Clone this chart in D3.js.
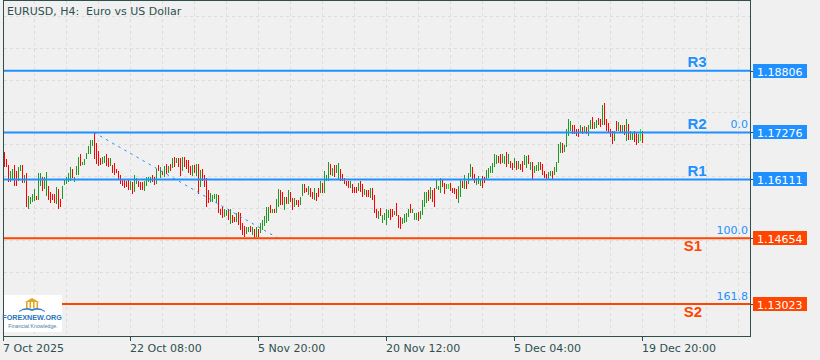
<!DOCTYPE html>
<html><head><meta charset="utf-8">
<script src="https://cdn.jsdelivr.net/npm/d3@7"></script>
<style>html,body{margin:0;padding:0;background:#f0f0f0;} svg{display:block} text{white-space:pre}</style>
</head><body>
<svg id="c" width="820" height="360"></svg>
<script>
// ---------------- data ----------------
const title = "EURUSD, H4:  Euro vs US Dollar";
const highs = [
1.1679,1.1661,1.1646,1.1633,1.1636,1.1646,1.1633,1.1642,1.1646,1.1646,
1.1623,1.1627,1.1570,1.1567,1.1574,1.1588,1.1570,1.1627,1.1627,1.1617,
1.1617,1.1629,1.1596,1.1580,1.1575,1.1574,1.1592,1.1588,1.1563,1.1594,
1.1611,1.1617,1.1627,1.1642,1.1636,1.1617,1.1644,1.1666,1.1673,1.1654,
1.1661,1.1677,1.1694,1.1710,1.1710,1.1727,1.1702,1.1681,1.1665,1.1666,
1.1669,1.1673,1.1665,1.1663,1.1646,1.1652,1.1636,1.1633,1.1623,1.1611,
1.1609,1.1607,1.1609,1.1607,1.1604,1.1621,1.1615,1.1607,1.1604,1.1604,
1.1608,1.1617,1.1617,1.1617,1.1621,1.1617,1.1636,1.1648,1.1642,1.1633,1.1644,
1.1649,1.1644,1.1649,1.1663,1.1666,1.1663,1.1663,1.1663,1.1667,
1.1666,1.1659,1.1659,1.1644,1.1647,1.1647,1.1649,1.1649,1.1634,1.1636,
1.1622,1.1614,1.1585,1.1577,1.1572,1.1575,1.1574,1.1572,1.1539,1.1544,
1.1537,1.1535,1.1539,1.1537,1.1523,1.1519,1.1527,1.1531,1.1527,1.1502,
1.1496,1.1494,1.1494,1.1496,1.1492,1.1487,1.1492,1.1487,1.1504,1.1511,
1.1520,1.1542,1.1544,1.1548,1.1539,1.1539,1.1562,1.1587,1.1585,1.1581,
1.1567,1.1568,1.1585,1.1581,1.1564,1.1564,1.1560,1.1560,1.1568,1.1601,
1.1601,1.1591,1.1595,1.1589,1.1581,1.1591,1.1578,1.1591,1.1608,1.1603,1.1633,
1.1622,1.1655,1.1649,1.1639,1.1647,1.1647,1.1651,1.1636,1.1625,
1.1614,1.1608,1.1608,1.1606,1.1601,1.1593,1.1593,1.1603,1.1606,1.1601,
1.1587,1.1585,1.1585,1.1591,1.1589,1.1572,1.1537,1.1533,1.1541,1.1523,
1.1529,1.1539,1.1535,1.1538,1.1539,1.1533,1.1552,1.1523,1.1519,1.1515,
1.1525,1.1527,1.1539,1.1549,1.1539,1.1529,1.1529,1.1531,1.1534,1.1560,
1.1581,1.1581,1.1585,1.1593,1.1585,1.1589,1.1611,1.1595,1.1614,1.1610,
1.1603,1.1601,1.1601,1.1603,1.1589,1.1591,1.1587,1.1595,1.1610,1.1606,
1.1622,1.1606,1.1626,1.1649,1.1643,1.1625,1.1614,1.1620,1.1611,1.1620,
1.1616,1.1635,1.1640,1.1644,1.1652,1.1674,1.1671,1.1668,1.1674,1.1673,
1.1668,1.1679,1.1673,1.1658,1.1652,1.1664,1.1656,1.1658,1.1649,1.1656,
1.1671,1.1668,1.1671,1.1654,1.1654,1.1644,1.1648,1.1654,1.1654,1.1649,
1.1633,1.1625,1.1630,1.1633,1.1633,1.1641,1.1654,1.1699,1.1704,1.1701,
1.1697,1.1735,1.1762,1.1755,1.1747,1.1745,1.1737,1.1737,1.1745,1.1740,
1.1743,1.1740,1.1745,1.1759,1.1765,1.1754,1.1759,1.1763,1.1762,1.1795,
1.1801,1.1762,1.1751,1.1735,1.1732,1.1730,1.1755,1.1754,1.1747,1.1745,
1.1745,1.1762,1.1749,1.1730,1.1726,1.1730,1.1726,1.1724,1.1737,1.1732
];
const lows = [
1.1642,1.1642,1.1604,1.1604,1.1613,1.1596,1.1596,1.1607,1.1632,1.1603,
1.1603,1.1543,1.1539,1.1549,1.1556,1.1557,1.1561,1.1559,1.1594,1.1582,
1.1588,1.1570,1.1559,1.1553,1.1559,1.1553,1.1549,1.1538,1.1543,1.1563,
1.1597,1.1599,1.1605,1.1607,1.1615,1.1604,1.1623,1.1623,1.1644,1.1646,
1.1646,1.1661,1.1673,1.1675,1.1694,1.1661,1.1650,1.1644,1.1648,1.1650,
1.1652,1.1644,1.1642,1.1644,1.1627,1.1623,1.1626,1.1611,1.1599,1.1594,
1.1590,1.1592,1.1586,1.1586,1.1574,1.1580,1.1599,1.1592,1.1586,1.1586,
1.1582,1.1594,1.1604,1.1603,1.1604,1.1597,1.1600,1.1632,1.1615,1.1623,1.1617,
1.1625,1.1628,1.1633,1.1639,1.1641,1.1653,1.1641,1.1620,1.1633,
1.1643,1.1636,1.1628,1.1622,1.1620,1.1628,1.1620,1.1575,1.1593,1.1606,
1.1593,1.1544,1.1552,1.1556,1.1556,1.1562,1.1552,1.1527,1.1523,1.1515,
1.1519,1.1520,1.1511,1.1501,1.1502,1.1506,1.1506,1.1498,1.1486,1.1473,
1.1469,1.1477,1.1482,1.1482,1.1473,1.1465,1.1468,1.1468,1.1479,1.1486,
1.1496,1.1502,1.1509,1.1527,1.1529,1.1527,1.1527,1.1544,1.1548,1.1548,
1.1535,1.1550,1.1550,1.1556,1.1535,1.1544,1.1548,1.1544,1.1548,1.1570,
1.1578,1.1581,1.1572,1.1568,1.1562,1.1560,1.1558,1.1568,1.1578,1.1578,1.1578,
1.1606,1.1606,1.1622,1.1620,1.1618,1.1626,1.1610,1.1606,1.1608,
1.1601,1.1595,1.1591,1.1589,1.1578,1.1578,1.1578,1.1583,1.1581,1.1568,
1.1572,1.1568,1.1567,1.1564,1.1560,1.1527,1.1515,1.1512,1.1520,1.1504,
1.1511,1.1498,1.1515,1.1511,1.1519,1.1523,1.1520,1.1490,1.1487,1.1501,
1.1502,1.1506,1.1519,1.1527,1.1527,1.1511,1.1511,1.1509,1.1512,1.1523,
1.1542,1.1552,1.1558,1.1562,1.1556,1.1544,1.1587,1.1585,1.1577,1.1593,
1.1575,1.1587,1.1587,1.1583,1.1577,1.1575,1.1562,1.1552,1.1568,1.1589,
1.1587,1.1587,1.1601,1.1616,1.1611,1.1603,1.1597,1.1601,1.1595,1.1589,
1.1602,1.1611,1.1615,1.1627,1.1627,1.1641,1.1649,1.1652,1.1649,1.1652,
1.1649,1.1641,1.1649,1.1640,1.1635,1.1640,1.1635,1.1637,1.1635,1.1630,
1.1648,1.1640,1.1649,1.1635,1.1613,1.1627,1.1633,1.1633,1.1635,1.1623,
1.1615,1.1613,1.1613,1.1619,1.1613,1.1621,1.1630,1.1652,1.1677,1.1677,
1.1679,1.1691,1.1718,1.1732,1.1724,1.1724,1.1720,1.1716,1.1726,1.1724,
1.1729,1.1724,1.1720,1.1735,1.1735,1.1735,1.1739,1.1745,1.1740,1.1747,
1.1747,1.1730,1.1729,1.1716,1.1699,1.1706,1.1730,1.1730,1.1729,1.1729,
1.1722,1.1707,1.1710,1.1710,1.1710,1.1704,1.1697,1.1701,1.1706,1.1701
];
// bar direction: u = bull, d = bear, l = doji
const dirs = (
"ddduudduud uduuuuduud uuddddudd u uuuuduuudu uuuuuddddu uddudddddd ddduduuddd " +
"uuuuddudud u dudududdu ddddududud ddduuuuddd uududduddd duudududuu uuududuudd " +
"ududdudduu ddudduddudu uududuudd ddduddd udd udduddd udu uuudduddd u uuuduuuduu " +
"uududduuud dulddddu ud uduudduuud duuuuuuddu ududdudud d uudud uuudd dduuduuuud " +
"uuuuddddud uduuduuddu dddddududu duduudduld"
).replace(/\s/g, "");

const timeLabels = ["7 Oct 2025","22 Oct 08:00","5 Nov 20:00","20 Nov 12:00","5 Dec 04:00","19 Dec 20:00"];
const timeIndex  = [0, 64, 128, 192, 256, 320];

const levelNames  = ["R3","R2","R1","S1","S2"];
const levelValues = [1.18806, 1.17276, 1.16111, 1.14654, 1.13023];

const fibLabels = ["0.0","100.0","161.8"];
const fibValues = [1.17276, 1.14654, 1.13023];
const fibFrom = 46, fibTo = 138;   // bar indices of the swing

// ---------------- layout ----------------
const W = 820, H = 360;
const L = 3, R = 750, T = 0, B = 336;
const FG = "#2f4f4f", BLUE = "#1e90ff", ORANGE = "#ff4500";
const UP = "#1e9a1e", DN = "#ff0000", DOJI = "#00ff00";

const svg = d3.select("#c");
svg.append("rect").attr("width", W).attr("height", H).attr("fill", "#f0f0f0");

const x = d3.scaleLinear().domain([0, 374]).range([2, 750]);
const y = d3.scaleLinear().domain([1.12230, 1.20559]).range([B, T]);

svg.append("clipPath").attr("id", "pc").append("rect")
  .attr("x", L + 1).attr("y", T + 1).attr("width", R - L - 1).attr("height", B - T - 1);

// grid
const grid = svg.append("g").attr("stroke", "#dcdcdc").attr("stroke-dasharray", "3,3").attr("stroke-width", 1);
for (let gy = B - 32; gy > T + 4; gy -= 32) {
  grid.append("line").attr("x1", L + 1).attr("x2", R).attr("y1", gy + 0.5).attr("y2", gy + 0.5);
}
for (let gx = x(0) + 32; gx < R; gx += 32) {
  grid.append("line").attr("y1", T + 1).attr("y2", B).attr("x1", gx + 0.5).attr("x2", gx + 0.5);
}

const plot = svg.append("g").attr("clip-path", "url(#pc)");

// bars
const bars = highs.map((h, i) => ({ i: i + 1, h, l: lows[i], d: dirs[i] || "u" }));
plot.append("g").selectAll("rect").data(bars).join("rect")
  .attr("x", d => Math.round(x(d.i)))
  .attr("width", 1)
  .attr("y", d => y(d.h))
  .attr("height", d => Math.max(1, y(d.l) - y(d.h)))
  .attr("fill", d => d.d === "u" ? UP : d.d === "d" ? DN : DOJI)
  .attr("shape-rendering", "crispEdges");

// fibo trend line (dotted)
plot.append("line")
  .attr("x1", x(fibFrom)).attr("y1", y(fibValues[0]))
  .attr("x2", x(fibTo)).attr("y2", y(fibValues[1]))
  .attr("stroke", BLUE).attr("stroke-width", 1).attr("stroke-dasharray", "2.5,4.5");

// level lines
levelNames.forEach((n, k) => {
  const col = n[0] === "R" ? BLUE : ORANGE;
  plot.append("line").attr("x1", L).attr("x2", R)
    .attr("y1", y(levelValues[k])).attr("y2", y(levelValues[k]))
    .attr("stroke", col).attr("stroke-width", 2);
});

// fibo labels
fibLabels.forEach((t, k) => {
  svg.append("text").attr("x", 748).attr("y", y(fibValues[k]) - 4)
    .attr("text-anchor", "end").attr("font-family", "DejaVu Sans").attr("font-size", 11)
    .attr("fill", BLUE).text(t);
});

// level names
levelNames.forEach((n, k) => {
  const isR = n[0] === "R";
  const col = isR ? BLUE : ORANGE;
  const yy = y(levelValues[k]) + (isR ? -3.5 : 13);
  svg.append("text").attr("x", isR ? 697 : 693).attr("y", yy)
    .attr("text-anchor", "middle").attr("font-family", "Liberation Sans, Arial")
    .attr("font-weight", "bold").attr("font-size", 15)
    .attr("fill", col).attr("stroke", "#ffffff").attr("stroke-width", 0.6).attr("stroke-opacity", 0.5)
    .attr("paint-order", "stroke")
    .text(n);
});

// frame
svg.append("rect").attr("x", L + 0.5).attr("y", T + 0.5).attr("width", R - L).attr("height", B - T)
  .attr("fill", "none").attr("stroke", FG).attr("stroke-width", 1);

// right price labels
levelNames.forEach((n, k) => {
  const col = n[0] === "R" ? BLUE : ORANGE;
  const yy = y(levelValues[k]);
  svg.append("line").attr("x1", R).attr("x2", R + 3).attr("y1", Math.round(yy) + 0.5).attr("y2", Math.round(yy) + 0.5)
    .attr("stroke", FG);
  svg.append("rect").attr("x", 753).attr("y", Math.round(yy) - 7).attr("width", 54).attr("height", 14).attr("fill", col);
  svg.append("text").attr("x", 757).attr("y", Math.round(yy) + 4.5)
    .attr("font-family", "DejaVu Sans").attr("font-size", 11).attr("fill", "#ffffff")
    .text(levelValues[k].toFixed(5));
});

// time axis
timeIndex.forEach((ti, k) => {
  const tx = Math.max(L, Math.round(x(ti)));
  svg.append("line").attr("x1", tx + 0.5).attr("x2", tx + 0.5).attr("y1", B).attr("y2", B + 5).attr("stroke", FG);
  svg.append("text").attr("x", tx).attr("y", 352)
    .attr("font-family", "DejaVu Sans").attr("font-size", 11).attr("fill", FG).text(timeLabels[k]);
});

// title
svg.append("text").attr("x", 7).attr("y", 15).attr("font-family", "DejaVu Sans").attr("font-size", 11)
  .attr("fill", FG).attr("xml:space", "preserve").style("white-space", "pre").text(title);

// logo
const lg = svg.append("g");
lg.append("rect").attr("x", 4).attr("y", 295).attr("width", 58).attr("height", 37).attr("fill", "#ffffff");
lg.append("path").attr("d", "M25,302 L32,298 L39,302 Z").attr("fill", "#e0a820");
for (let c = 0; c < 4; c++) {
  lg.append("rect").attr("x", 26 + c * 3.5).attr("y", 302).attr("width", 1.6).attr("height", 6).attr("fill", "#e0a820");
}
lg.append("path").attr("d", "M19,311 Q25,306 32,309 Q39,306 45,311 L45,312 Q39,308 32,311 Q25,308 19,312 Z").attr("fill", "#3b7fc4");
lg.append("text").attr("x", 32).attr("y", 320).attr("text-anchor", "middle")
  .attr("font-family", "Liberation Sans, Arial").attr("font-weight", "bold").attr("font-size", 7.2)
  .attr("fill", "#2a74be").text("FOREXNEW.ORG");
lg.append("text").attr("x", 33).attr("y", 327.5).attr("text-anchor", "middle")
  .attr("font-family", "Liberation Sans, Arial").attr("font-size", 5.2)
  .attr("fill", "#4a7ca8").text("Financial Knowledge.");
</script>
</body></html>
